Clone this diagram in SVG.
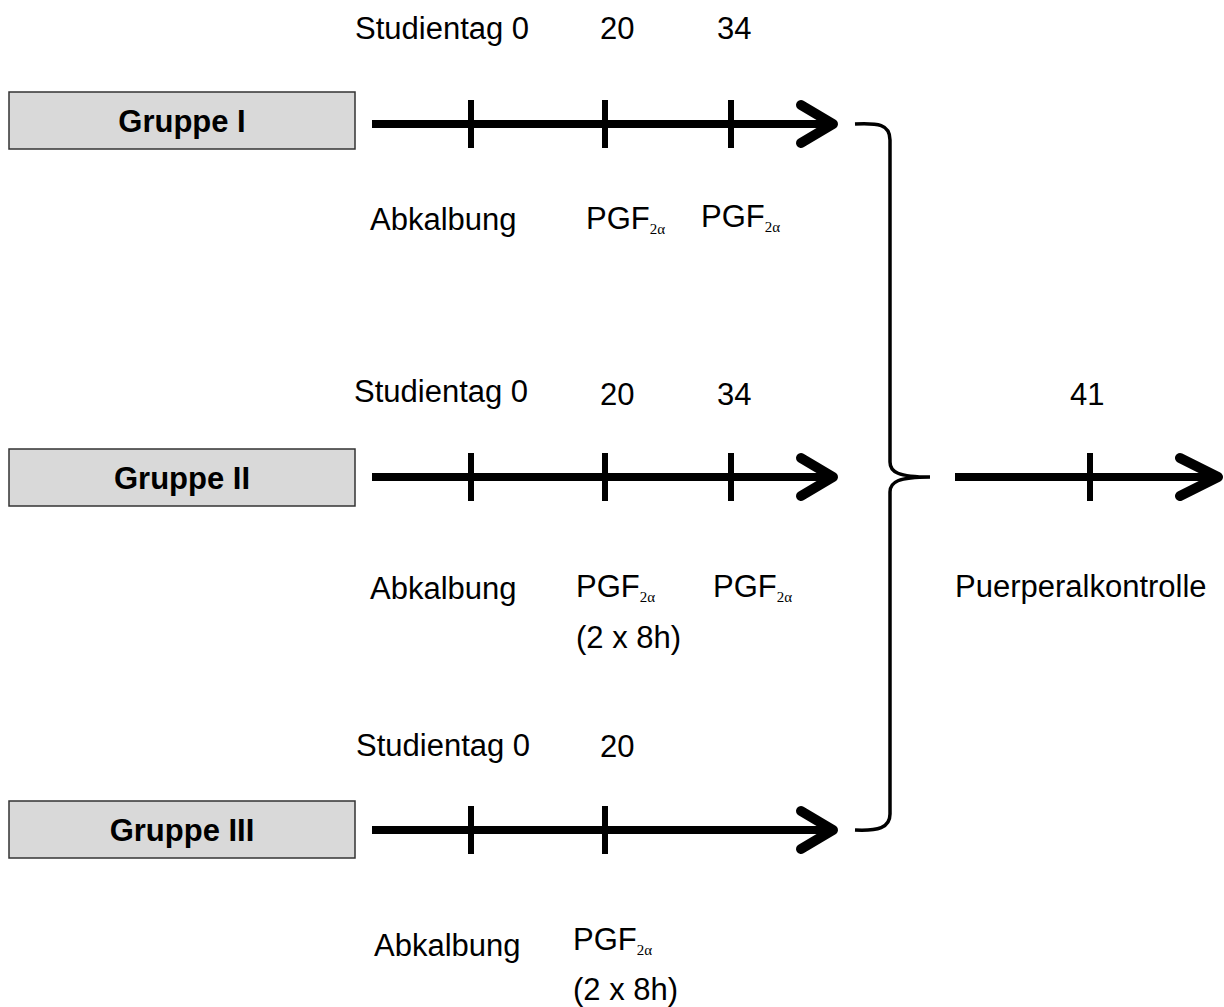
<svg xmlns="http://www.w3.org/2000/svg" width="1224" height="1007" viewBox="0 0 1224 1007">
<style>
text{font-family:"Liberation Sans",Arial,sans-serif;font-size:31px;fill:#000}
.grp{font-weight:bold;text-anchor:middle}
.sub{font-family:"Liberation Serif","Times New Roman",serif;font-size:15px}
.box{fill:#d9d9d9;stroke:#333;stroke-width:1.5}
.axis{stroke:#000;stroke-width:8;fill:none}
.tick{stroke:#000;stroke-width:6;fill:none}
.head{stroke:#000;stroke-width:10;fill:none;stroke-linecap:round;stroke-linejoin:round}
.brace{stroke:#000;stroke-width:3.5;fill:none}
</style>
<rect width="1224" height="1007" fill="#fff"/>
<g id="gruppe1">
<rect class="box" x="9" y="92" width="346" height="57"/>
<text class="grp" x="182" y="132">Gruppe I</text>
</g>
<g id="gruppe2">
<rect class="box" x="9" y="449" width="346" height="57"/>
<text class="grp" x="182" y="489">Gruppe II</text>
</g>
<g id="gruppe3">
<rect class="box" x="9" y="801" width="346" height="57"/>
<text class="grp" x="182" y="841">Gruppe III</text>
</g>
<g id="connectors">
<path class="axis" d="M372,124H830"/>
<path class="tick" d="M471,100V148M605,100V148M731,100V148"/>
<path class="head" d="M801,105L833,124L801,143"/>
<path class="axis" d="M372,477H830"/>
<path class="tick" d="M471,453V501M605,453V501M731,453V501"/>
<path class="head" d="M801,458L833,477L801,496"/>
<path class="axis" d="M372,830H830"/>
<path class="tick" d="M471,806V854M605,806V854"/>
<path class="head" d="M801,811L833,830L801,849"/>
<path class="brace" d="M855,124C878,123 890,124 890,140L890,462C890,472 898,477 930,477C898,477 890,482 890,492L890,814C890,828 878,831 855,830"/>
<path class="axis" d="M955,477H1218"/>
<path class="tick" d="M1090,453V501"/>
<path class="head" d="M1180,458L1218,477L1180,496"/>
</g>
<g id="labels1">
<text x="355" y="39">Studientag 0</text>
<text x="600" y="39">20</text>
<text x="717" y="39">34</text>
<text x="370" y="230">Abkalbung</text>
<text x="586" y="229">PGF<tspan class="sub" dy="5">2α</tspan></text>
<text x="701" y="227">PGF<tspan class="sub" dy="5">2α</tspan></text>
</g>
<g id="labels2">
<text x="354" y="402">Studientag 0</text>
<text x="600" y="405">20</text>
<text x="717" y="405">34</text>
<text x="370" y="599">Abkalbung</text>
<text x="576" y="597">PGF<tspan class="sub" dy="5">2α</tspan></text>
<text x="713" y="597">PGF<tspan class="sub" dy="5">2α</tspan></text>
<text x="576" y="648">(2 x 8h)</text>
</g>
<g id="labels3">
<text x="356" y="756">Studientag 0</text>
<text x="600" y="757">20</text>
<text x="374" y="956">Abkalbung</text>
<text x="573" y="950">PGF<tspan class="sub" dy="5">2α</tspan></text>
<text x="573" y="1000">(2 x 8h)</text>
</g>
<g id="final">
<text x="1070" y="405">41</text>
<text x="955" y="597">Puerperalkontrolle</text>
</g>
</svg>
